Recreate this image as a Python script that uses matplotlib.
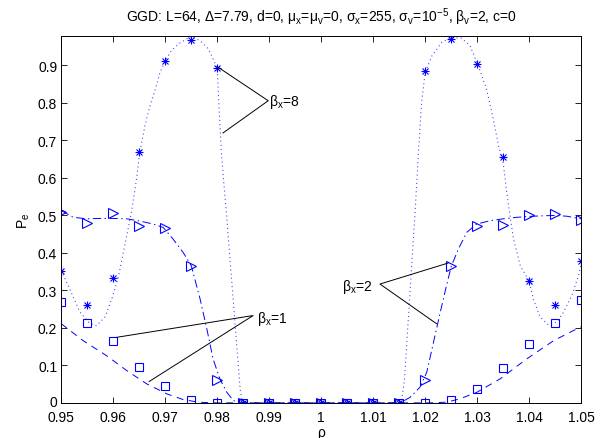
import numpy as np
import matplotlib
matplotlib.use('Agg')
import matplotlib.pyplot as plt
from matplotlib.transforms import ScaledTranslation

plt.rcParams['font.family'] = ['Liberation Sans', 'DejaVu Sans']
plt.rcParams['mathtext.fontset'] = 'custom'
plt.rcParams['mathtext.rm'] = 'Liberation Sans'
plt.rcParams['mathtext.it'] = 'Liberation Sans'
plt.rcParams['mathtext.default'] = 'regular'
plt.rcParams['lines.scale_dashes'] = False

# simulated points (markers)
rho = [0.95, 0.955, 0.96, 0.965, 0.97, 0.975, 0.98, 0.985, 0.99, 0.995, 1.0,
       1.005, 1.01, 1.015, 1.02, 1.025, 1.03, 1.035, 1.04, 1.045, 1.05]
pe_b8 = [0.353, 0.262, 0.333, 0.668, 0.913, 0.969, 0.893, 0, 0, 0, 0,
         0, 0, 0, 0.884, 0.972, 0.905, 0.656, 0.326, 0.262, 0.378]
pe_b2 = [0.510, 0.479, 0.507, 0.471, 0.467, 0.366, 0.061, 0, 0, 0, 0,
         0, 0, 0, 0.060, 0.364, 0.471, 0.475, 0.501, 0.504, 0.488]
pe_b1 = [0.270, 0.213, 0.166, 0.097, 0.044, 0.008, 0.0, 0, 0, 0, 0,
         0, 0, 0, 0.0, 0.008, 0.036, 0.093, 0.156, 0.212, 0.275]

# theory curves
rho_t8 = [0.95, 0.9516, 0.9536, 0.9555, 0.9568, 0.9584, 0.9597, 0.9609, 0.9622,
          0.9635, 0.9645, 0.965, 0.9661, 0.967, 0.968, 0.969, 0.970, 0.9712,
          0.9728, 0.975, 0.9767, 0.9783, 0.980, 0.9803, 0.9808, 0.9813, 0.9818,
          0.9824, 0.9834, 0.9844, 0.9848, 1.0154, 1.016, 1.0171, 1.0181, 1.0187,
          1.0193, 1.02, 1.0213, 1.0232, 1.0251, 1.027, 1.0286, 1.0302, 1.0318,
          1.0331, 1.0341, 1.035, 1.0357, 1.0363, 1.037, 1.0383, 1.040, 1.0408,
          1.0421, 1.0437, 1.0453, 1.0466, 1.0482, 1.0495, 1.05]
pe_t8 = [0.353, 0.304, 0.242, 0.211, 0.206, 0.229, 0.277, 0.331, 0.419,
         0.51, 0.60, 0.66, 0.74, 0.79, 0.833, 0.882, 0.913, 0.94,
         0.96, 0.978, 0.966, 0.944, 0.893, 0.80, 0.668, 0.58, 0.50,
         0.393, 0.215, 0.037, 0.0, 0.0, 0.06, 0.30, 0.52, 0.668,
         0.80, 0.882, 0.926, 0.962, 0.975, 0.973, 0.953, 0.90, 0.837,
         0.757, 0.686, 0.64, 0.56, 0.50, 0.437, 0.365, 0.325, 0.277,
         0.229, 0.208, 0.215, 0.242, 0.286, 0.34, 0.37]

rho_t2 = [0.95, 0.9523, 0.9549, 0.9574, 0.96, 0.9626, 0.9651, 0.9677, 0.9696,
          0.9715, 0.9734, 0.975, 0.9767, 0.978, 0.9792, 0.9805, 0.9818, 0.9831,
          0.9844, 1.0152, 1.0171, 1.019, 1.0203, 1.0216, 1.0229, 1.0241, 1.025,
          1.0264, 1.028, 1.0299, 1.0325, 1.035, 1.0376, 1.0408, 1.0447, 1.0472, 1.05]
pe_t2 = [0.513, 0.495, 0.491, 0.492, 0.492, 0.491, 0.485, 0.477, 0.468,
         0.437, 0.402, 0.366, 0.277, 0.197, 0.117, 0.064, 0.029, 0.006,
         0.0, 0.0, 0.015, 0.042, 0.082, 0.162, 0.242, 0.313, 0.364,
         0.411, 0.455, 0.477, 0.486, 0.491, 0.495, 0.498, 0.50, 0.498, 0.491]

rho_t1 = [0.95, 0.9542, 0.9587, 0.9626, 0.9664, 0.9703, 0.9734, 0.9763, 0.979,
          1.021, 1.0242, 1.0267, 1.0299, 1.0344, 1.0395, 1.0447, 1.0498, 1.05]
pe_t1 = [0.211, 0.166, 0.126, 0.086, 0.051, 0.024, 0.009, 0.002, 0.0,
         0.0, 0.002, 0.011, 0.028, 0.064, 0.117, 0.166, 0.202, 0.203]

xticks = [0.95, 0.96, 0.97, 0.98, 0.99, 1.0, 1.01, 1.02, 1.03, 1.04, 1.05]
xticklabels = ['0.95', '0.96', '0.97', '0.98', '0.99', '1', '1.01', '1.02', '1.03', '1.04', '1.05']
yticks = [0, 0.1, 0.2, 0.3, 0.4, 0.5, 0.6, 0.7, 0.8, 0.9]
yticklabels = ['0', '0.1', '0.2', '0.3', '0.4', '0.5', '0.6', '0.7', '0.8', '0.9']

# annotation lines: label vertex -> two ends
ann8 = ([0.9802, 0.9898, 0.9811], [0.895, 0.806, 0.72])
ann2 = ([1.0244, 1.0113, 1.0222], [0.373, 0.317, 0.211])
ann1 = ([0.9607, 0.9869, 0.9669], [0.175, 0.233, 0.057])

blue = (0, 0, 1)

fig = plt.figure(figsize=(6.01, 4.39), dpi=100)
ax = fig.add_axes([0.102, 0.080, 0.865, 0.836])

ax.plot(rho_t8, pe_t8, color=blue, lw=0.8, ls=(0, (0.8, 2.2)), alpha=0.7)
ax.plot(rho_t2, pe_t2, color=blue, lw=0.7, ls=(0, (6, 2.5, 1, 2.5)))
ax.plot(rho_t1, pe_t1, color=blue, lw=0.7, ls=(0, (5, 4)))

ax.plot(rho, pe_b8, ls='none', marker='+', ms=6, mew=0.8, color=blue)
ax.plot(rho, pe_b8, ls='none', marker='x', ms=4.5, mew=0.8, color=blue)
ax.plot(rho, pe_b2, ls='none', marker='>', ms=7, mew=0.8, mfc='none', mec=blue)
ax.plot(rho, pe_b1, ls='none', marker='s', ms=6, mew=0.8, mfc='none', mec=blue)

for xs, ys in (ann8, ann2, ann1):
    ax.plot([xs[0], xs[1], xs[2]], [ys[0], ys[1], ys[2]], color='k', lw=0.7)

ax.text(0.9899, 0.806, r'$\beta_x$=8', fontsize=10, ha='left', va='center')
ax.text(1.0099, 0.312, r'$\beta_x$=2', fontsize=10, ha='right', va='center')
ax.text(0.9877, 0.226, r'$\beta_x$=1', fontsize=10, ha='left', va='center')

ax.set_xlim(0.95, 1.05)
ax.set_ylim(0, 0.979)
ax.set_xticks(xticks)
ax.set_xticklabels(xticklabels)
ax.set_yticks(yticks)
ax.set_yticklabels(yticklabels)
ax.tick_params(direction='in', top=True, right=True, length=4, width=0.6, labelsize=10)
ax.tick_params(axis='x', pad=5)
ax.tick_params(axis='y', pad=3)
for s in ax.spines.values():
    s.set_linewidth(0.7)

# nudge the "0" label up a little so it clears "0.95"
zero_lbl = ax.get_yticklabels()[0]
zero_lbl.set_transform(zero_lbl.get_transform() + ScaledTranslation(0, 1.5 / 72, fig.dpi_scale_trans))

ax.set_xlabel('ρ', fontsize=10, labelpad=1)
ax.set_ylabel(r'$P_e$', fontsize=10, labelpad=4)
ax.set_title(r'GGD: L=64, $\Delta$=7.79, d=0, $\mu_x$=$\mu_v$=0, $\sigma_x$=255, '
             r'$\sigma_v$=10$^{-5}$, $\beta_v$=2, c=0', fontsize=10, pad=11)

fig.savefig('out.png', dpi=100)
